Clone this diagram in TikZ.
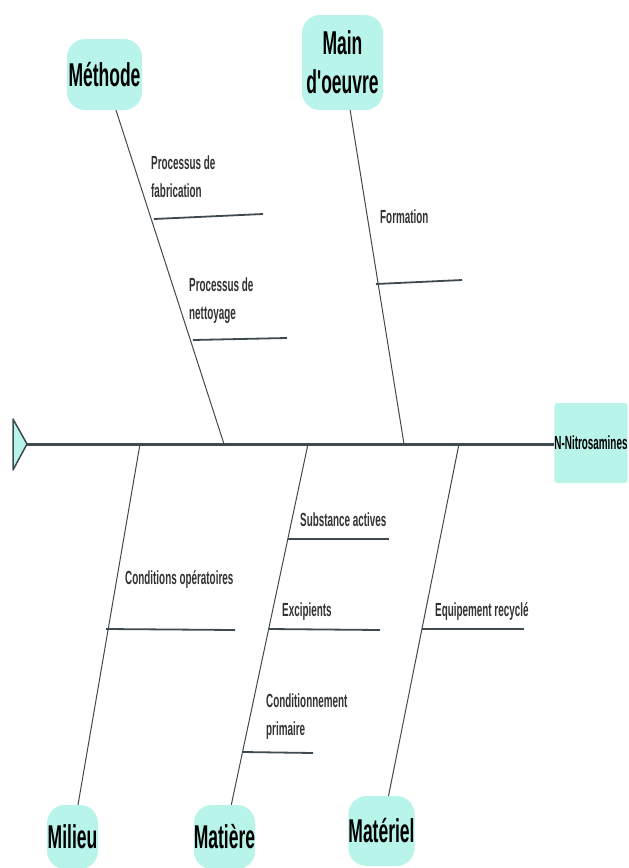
\documentclass[tikz,border=0pt]{standalone}
\usepackage{fontspec}
\setmainfont{Liberation Sans}
\newfontfamily\catfont{Liberation Sans}[FakeStretch=0.53,BoldFont={* Bold}]
\newfontfamily\causefont{Liberation Sans}[FakeStretch=0.52,BoldFont={* Bold}]
\definecolor{fishfill}{HTML}{B9F4EB}
\definecolor{bonegray}{HTML}{3E4A50}
\definecolor{labelgray}{HTML}{333333}

\begin{document}
\begin{tikzpicture}[x=1pt,y=-1pt,
cat/.style={fill=fishfill,rounded corners=18pt,inner sep=0pt,align=center,font=\catfont\bfseries\fontsize{33}{39}\selectfont},
cause/.style={anchor=base west,inner sep=0pt,align=left,text=labelgray,font=\causefont\bfseries\fontsize{19}{28}\selectfont},
bone/.style={draw=bonegray,line width=1pt},
twig/.style={draw=bonegray,line width=1.8pt},
spine/.style={draw=bonegray,line width=3pt}]
\useasboundingbox (0,0) rectangle (629,868);
\clip (0,0) rectangle (629,868);

% head and tail
\node[fill=fishfill,rounded corners=3pt,minimum width=72pt,minimum height=80pt,inner sep=0pt,font=\causefont\bfseries\fontsize{19}{22}\selectfont] (effect) at (591,443) {N-Nitrosamines};
\coordinate (tail) at (27,444);
\draw[bonegray,fill=fishfill,line width=1.5pt,line join=round] (tail) -- (13,419) -- (13,470) -- cycle;
\draw[spine] (tail) -- (effect.west |- tail);

% categories
\node[cat,minimum width=75pt,minimum height=71pt] (1) at (104.5,74.5) {Méthode};
\node[cat,minimum width=81pt,minimum height=95pt] (2) at (342.5,62.5) {Main\\d'oeuvre};
\node[cat,minimum width=51pt,minimum height=64pt] (3) at (72.5,837) {Milieu};
\node[cat,minimum width=57pt,minimum height=64pt] (4) at (224.5,837) {Matière};
\node[cat,minimum width=61pt,minimum height=70pt] (5) at (381.5,831) {Matériel};

\coordinate (s1) at (224,444);
\coordinate (s2) at (404,444);
\coordinate (s3) at (140,444);
\coordinate (s4) at (308,444);
\coordinate (s5) at (459,444);
\draw[bone] (1) -- (s1);
\draw[bone] (2) -- (s2);
\draw[bone] (3) -- (s3);
\draw[bone] (4) -- (s4);
\draw[bone] (5) -- (s5);

% causes (base = last line)
\node[cause] (c1) at (151,197) {Processus de\\fabrication};
\node[cause] (c2) at (189,319) {Processus de\\nettoyage};
\node[cause] (c3) at (380,223) {Formation};
\node[cause] (c4) at (125,584) {Conditions opératoires};
\node[cause] (c5) at (300,526) {Substance actives};
\node[cause] (c6) at (282,616) {Excipients};
\node[cause] (c7) at (266,735) {Conditionnement\\primaire};
\node[cause] (c8) at (435,616) {Equipement recyclé};

\draw[twig] (154,219) coordinate (j1) -- (263,214) coordinate (e1);
\draw[twig] (193,340) coordinate (j2) -- (287,338) coordinate (e2);
\draw[twig] (376,284) coordinate (j3) -- (462,280) coordinate (e3);
\draw[twig] (106,629) coordinate (j4) -- (235,630) coordinate (e4);
\draw[twig] (288,539) coordinate (j5) -- (389,539) coordinate (e5);
\draw[twig] (269,629) coordinate (j6) -- (380,630) coordinate (e6);
\draw[twig] (243,752) coordinate (j7) -- (313,753) coordinate (e7);
\draw[twig] (422,629) coordinate (j8) -- (524,629) coordinate (e8);
\end{tikzpicture}
\end{document}
